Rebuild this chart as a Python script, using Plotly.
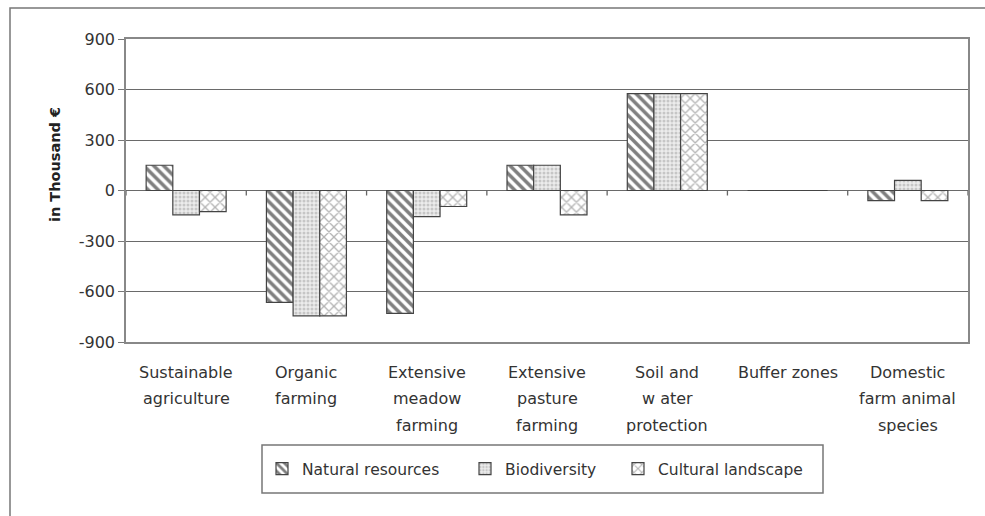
import plotly.graph_objects as go

# ---- data ----
category_labels = [
    "Sustainable<br>agriculture",
    "Organic<br>farming",
    "Extensive<br>meadow<br>farming",
    "Extensive<br>pasture<br>farming",
    "Soil and<br>w ater<br>protection",
    "Buffer zones",
    "Domestic<br>farm animal<br>species",
]
series_names = ["Natural resources", "Biodiversity", "Cultural landscape"]
natural_resources = [150, -665, -730, 150, 575, 0, -60]
biodiversity = [-145, -745, -155, 150, 575, 0, 60]
cultural_landscape = [-125, -745, -95, -145, 575, 0, -60]
y_ticks = [-900, -600, -300, 0, 300, 600, 900]
y_tick_labels = ["-900", "-600", "-300", "0", "300", "600", "900"]
y_title = "in Thousand €"

categories = [c.replace("<br>", " ") for c in category_labels]

# ---- geometry helpers (pixel -> paper) ----
W, H = 985, 516
L, R, T, B = 126, 968, 39, 342
def px(x):
    return (x - L) / (R - L)
def py(y):
    return (B - y) / (B - T)

FONT = "DejaVu Sans"
TXT = "#333333"

styles = [
    dict(shape="\\", fgcolor="#000000", bgcolor="#ffffff", size=7, solidity=0.5),
    dict(shape=".", fgcolor="#a0a0a0", bgcolor="#ececec", size=4, solidity=0.45),
    dict(shape="x", fgcolor="#6a6a6a", bgcolor="#ffffff", size=7, solidity=0.35),
]
legend_ids = ["legend", "legend2", "legend3"]
legend_item_x = [262, 465, 618]

fig = go.Figure()
for name, vals, st, lg in zip(series_names, [natural_resources, biodiversity, cultural_landscape], styles, legend_ids):
    fig.add_trace(go.Bar(
        name=name, x=categories, y=vals, legend=lg,
        marker=dict(color="#ffffff", pattern=st, line=dict(color="#444444", width=1.2)),
    ))

n = len(categories)
annotations = []
for cat, lab in zip(categories, category_labels):
    for i, line in enumerate(lab.split("<br>")):
        annotations.append(dict(
            x=cat, xref="x", y=py(372 + 26.5 * i), yref="paper",
            text=line, showarrow=False, xanchor="center", yanchor="middle",
            font=dict(family=FONT, size=16, color=TXT),
        ))
annotations.append(dict(
    x=px(55), xref="paper", y=py(165), yref="paper", text=y_title, textangle=-90,
    showarrow=False, xanchor="center", yanchor="middle",
    font=dict(family=FONT, size=14.5, color="#222222", weight="bold"),
))

shapes = [
    dict(type="rect", xref="paper", yref="paper", x0=px(10), x1=px(1000), y0=py(8), y1=py(530),
         line=dict(color="#777777", width=1.5), fillcolor="rgba(0,0,0,0)", layer="below"),
    dict(type="rect", xref="paper", yref="paper", x0=px(262), x1=px(823), y0=py(445), y1=py(493),
         line=dict(color="#777777", width=1.5), fillcolor="rgba(0,0,0,0)"),
]
# small category-boundary tick marks hanging from the zero line
for i in range(n + 1):
    shapes.append(dict(type="line", xref="x", yref="y", x0=i - 0.5, x1=i - 0.5,
                       ysizemode="pixel", yanchor=0, y0=0, y1=-5,
                       line=dict(color="#666666", width=1.3)))

legend_common = dict(orientation="h", xanchor="left", y=py(469), yanchor="middle",
                     bgcolor="rgba(0,0,0,0)", borderwidth=0,
                     font=dict(family=FONT, size=15.5, color=TXT))

fig.update_layout(
    width=W, height=H,
    margin=dict(l=L, r=W - R, t=T, b=H - B),
    paper_bgcolor="white", plot_bgcolor="white",
    barmode="group", bargap=0.335, bargroupgap=0,
    font=dict(family=FONT, size=16, color=TXT),
    showlegend=True,
    legend=dict(x=px(legend_item_x[0]), **legend_common),
    legend2=dict(x=px(legend_item_x[1]), **legend_common),
    legend3=dict(x=px(legend_item_x[2]), **legend_common),
    xaxis=dict(type="category", range=[-0.5, n - 0.5], showticklabels=False, ticks="",
               showline=True, mirror=True, linecolor="#888888", linewidth=1.5,
               showgrid=False, zeroline=False),
    yaxis=dict(range=[-900, 900], tickvals=y_ticks, ticktext=y_tick_labels,
               ticks="outside", ticklen=6, tickcolor="#777777", tickwidth=1.2,
               showline=True, mirror=True, linecolor="#888888", linewidth=1.5,
               showgrid=True, gridcolor="#6a6a6a", gridwidth=1.3,
               zeroline=True, zerolinecolor="#6a6a6a", zerolinewidth=1.3,
               tickfont=dict(family=FONT, size=16, color=TXT)),
    annotations=annotations,
    shapes=shapes,
)

fig.write_html("out.html", config={"displayModeBar": False},
               post_script="document.body.style.margin='0';document.body.style.overflow='hidden';")
